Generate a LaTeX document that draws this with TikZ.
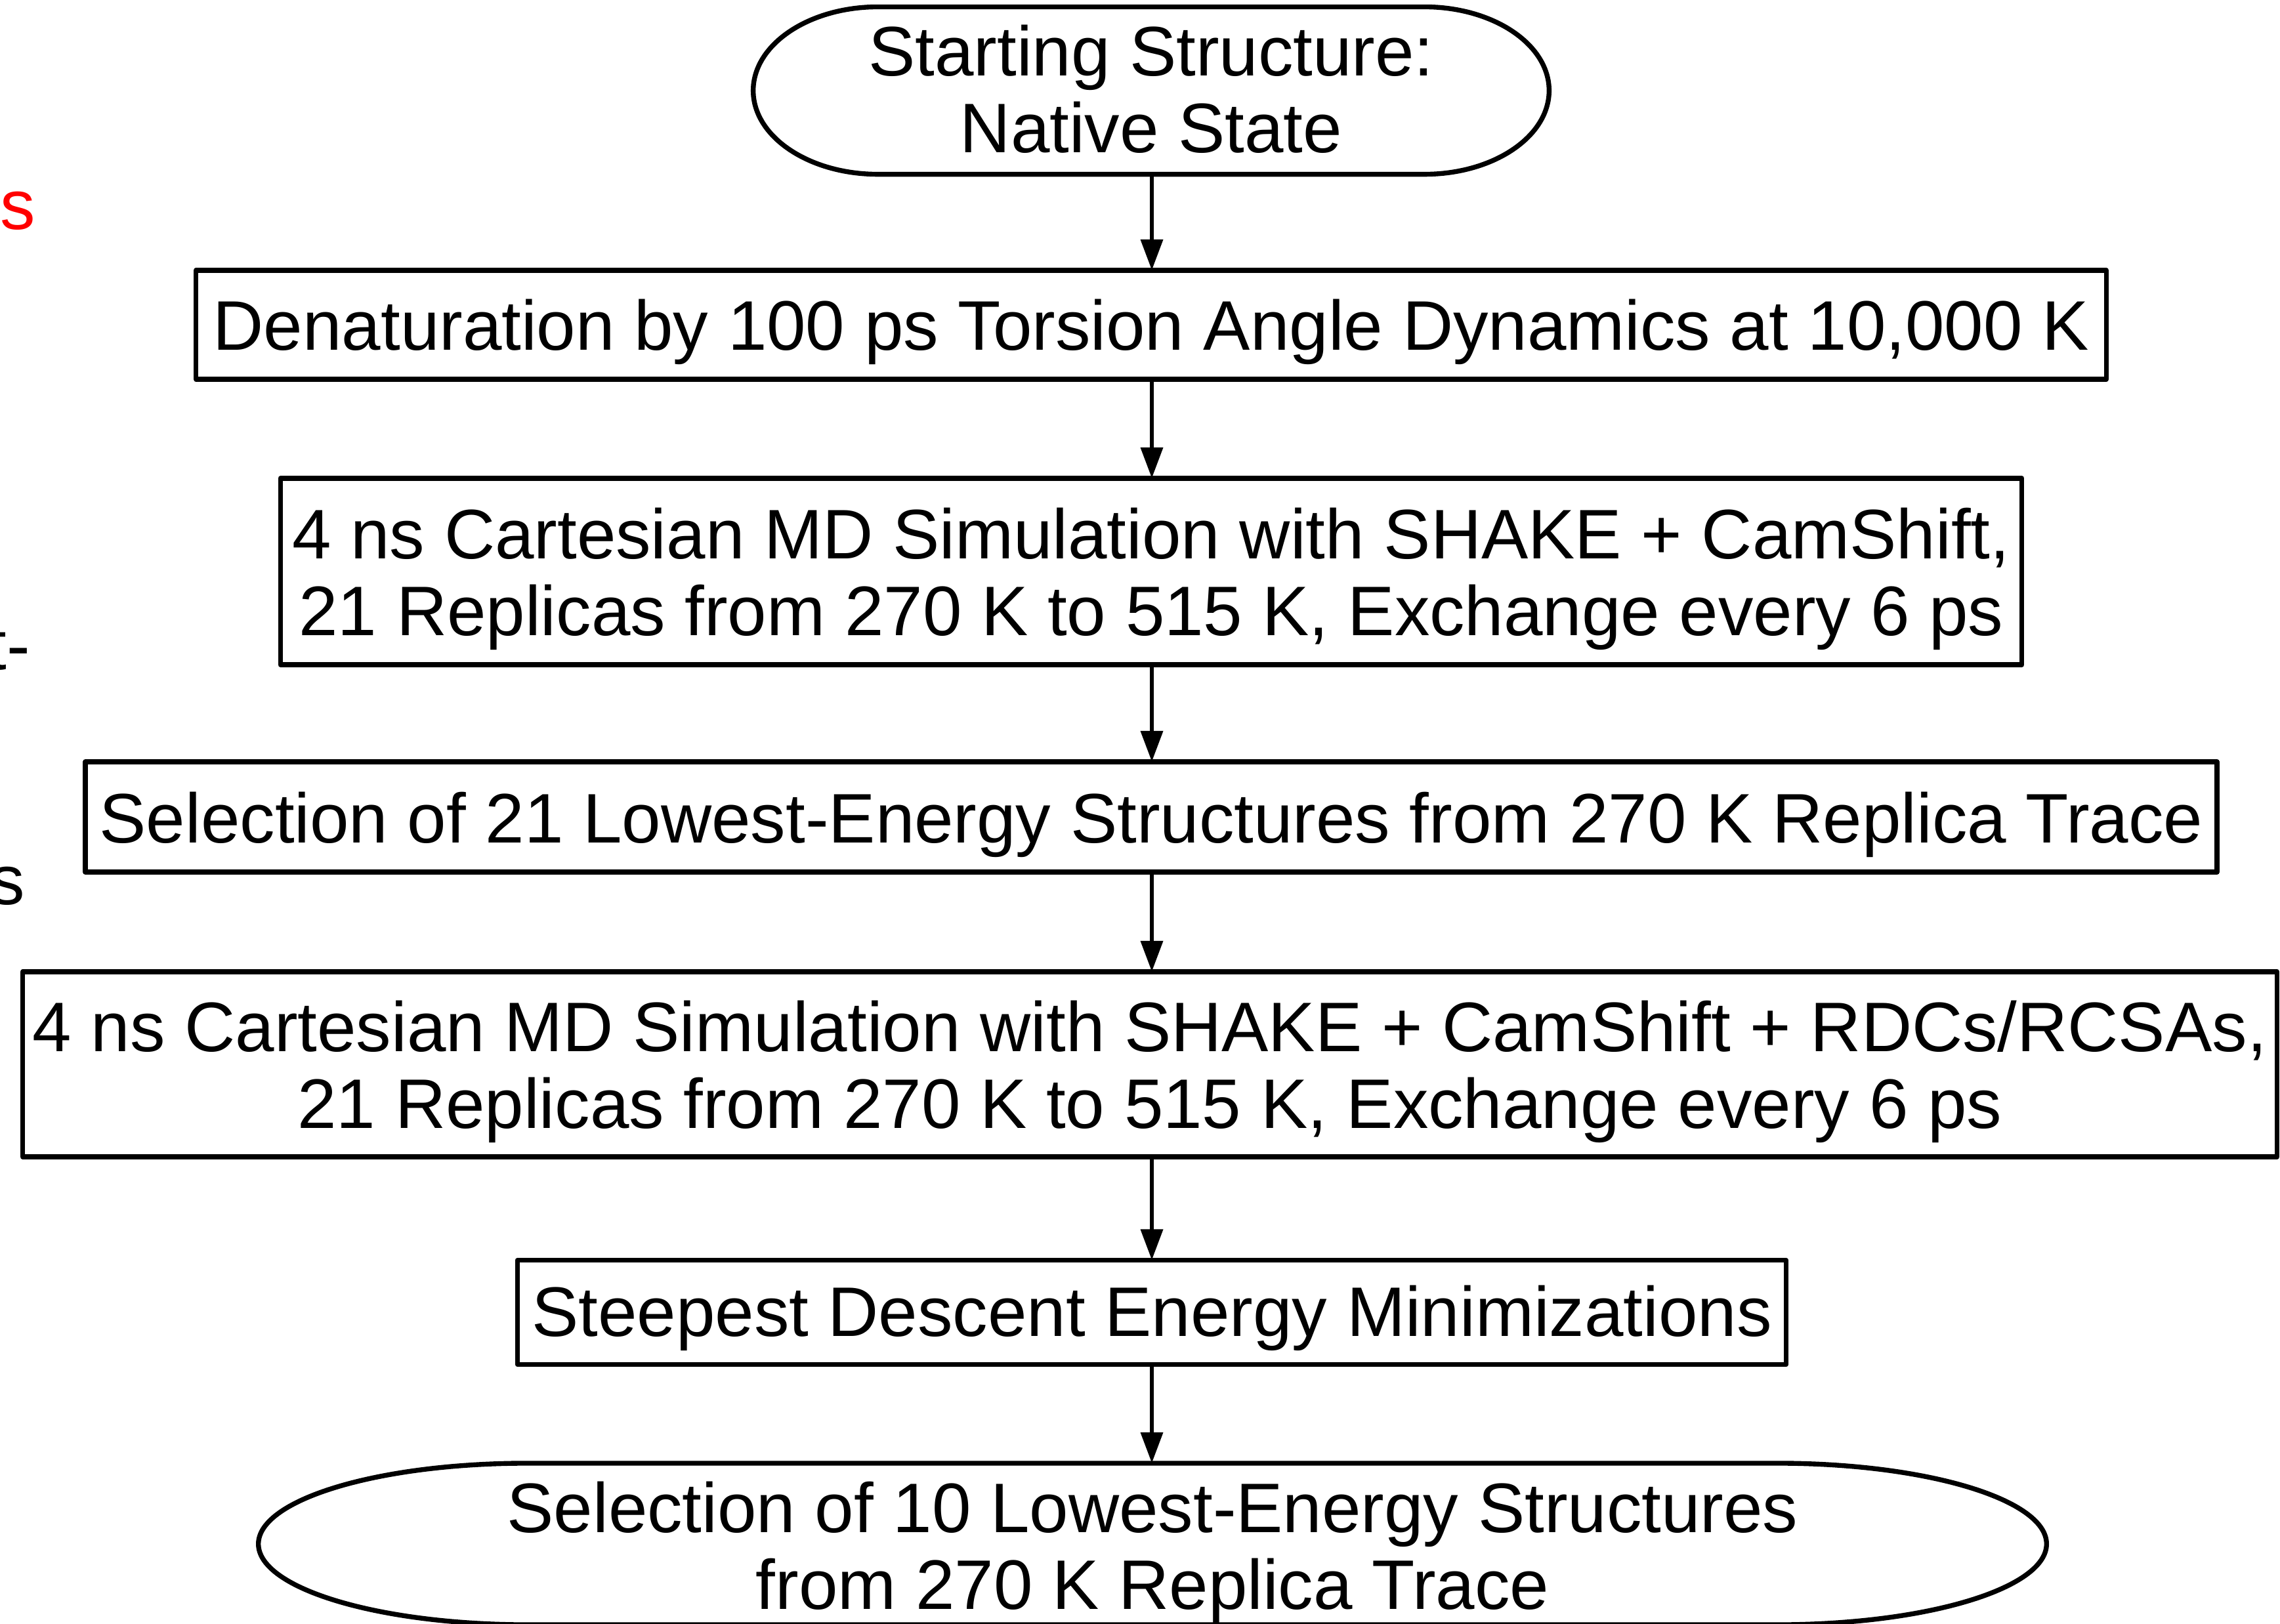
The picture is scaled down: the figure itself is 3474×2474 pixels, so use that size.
\documentclass[tikz,border=0pt]{standalone}
\usepackage{fontspec}
\setmainfont{Liberation Sans}
\usetikzlibrary{arrows.meta}
\newcommand\stadiumpath[3]{%
  \draw[boxline] ([xshift=#2]#1.north west) -- ([xshift=-#2]#1.north east)
    arc[start angle=90,end angle=0,x radius=#2,y radius=#3]
    arc[start angle=0,end angle=-90,x radius=#2,y radius=#3]
    -- ([xshift=#2]#1.south west)
    arc[start angle=270,end angle=180,x radius=#2,y radius=#3]
    arc[start angle=180,end angle=90,x radius=#2,y radius=#3] -- cycle;}
\begin{document}
\begin{tikzpicture}[x=0.01cm,y=0.01cm,
  every node/.style={font=\fontsize{30.4}{33.3}\selectfont, inner sep=0pt, outer sep=0pt, align=center},
  boxline/.style={line width=2.1pt, line join=round},
  flowbox/.style={draw, boxline, rectangle},
  endcap/.style={},
  boxtext/.style={},
  flowarrow/.style={line width=1.9pt, -{Triangle[length=0.47cm,width=0.33cm]}}]
\useasboundingbox (0,0) rectangle (3474,-2474);
\clip (0,0) rectangle (3474,-2474);
\fill[white] (0,0) rectangle (3474,-2474);

\node[endcap, minimum width=12.12cm, minimum height=2.55cm] (start) at (1754,-138) {};
\node[boxtext] (startt) at (1754,-136) {Starting Structure:\\Native State};
\stadiumpath{start}{1.9cm}{1.275cm}

\node[flowbox, minimum width=29.09cm, minimum height=1.66cm] (d1) at (1754,-495) {};
\node[boxtext] (d1t) at (1754,-506) {Denaturation by 100 ps Torsion Angle Dynamics at 10,000 K};
\node[flowbox, minimum width=26.52cm, minimum height=2.84cm] (d2) at (1754,-871) {};
\node[boxtext] (d2t) at (1754,-882) {4 ns Cartesian MD Simulation with SHAKE + CamShift,\\21 Replicas from 270 K to 515 K, Exchange every 6 ps};
\node[flowbox, minimum width=32.46cm, minimum height=1.68cm] (d3) at (1754,-1245) {};
\node[boxtext] (d3t) at (1754,-1257) {Selection of 21 Lowest-Energy Structures from 270 K Replica Trace};
\node[flowbox, minimum width=34.33cm, minimum height=2.82cm] (d4) at (1752,-1622) {};
\node[boxtext] (d4t) at (1752,-1633) {4 ns Cartesian MD Simulation with SHAKE + CamShift + RDCs/RCSAs,\\21 Replicas from 270 K to 515 K, Exchange every 6 ps};
\node[flowbox, minimum width=19.32cm, minimum height=1.59cm] (d5) at (1755,-2000) {};
\node[boxtext] (d5t) at (1755,-2009) {Steepest Descent Energy Minimizations};

\node[endcap, minimum width=27.23cm, minimum height=2.46cm] (end) at (1756,-2353) {};
\node[boxtext] (endt) at (1756,-2366) {Selection of 10 Lowest-Energy Structures\\from 270 K Replica Trace};
\stadiumpath{end}{4.1cm}{1.23cm}

\draw[flowarrow] (start.south -| 1755,0) -- (d1.north -| 1755,0);
\draw[flowarrow] (d1.south -| 1755,0) -- (d2.north -| 1755,0);
\draw[flowarrow] (d2.south -| 1755,0) -- (d3.north -| 1755,0);
\draw[flowarrow] (d3.south -| 1755,0) -- (d4.north -| 1755,0);
\draw[flowarrow] (d4.south -| 1755,0) -- (d5.north -| 1755,0);
\draw[flowarrow] (d5.south -| 1755,0) -- (end.north -| 1755,0);

\node[anchor=base west, text=red] (frag1) at (0,-349) {s};
\node[anchor=base east] (frag2) at (46,-1020) {t-};
\node[anchor=base east] (frag3) at (38,-1378) {s};
\end{tikzpicture}
\end{document}
